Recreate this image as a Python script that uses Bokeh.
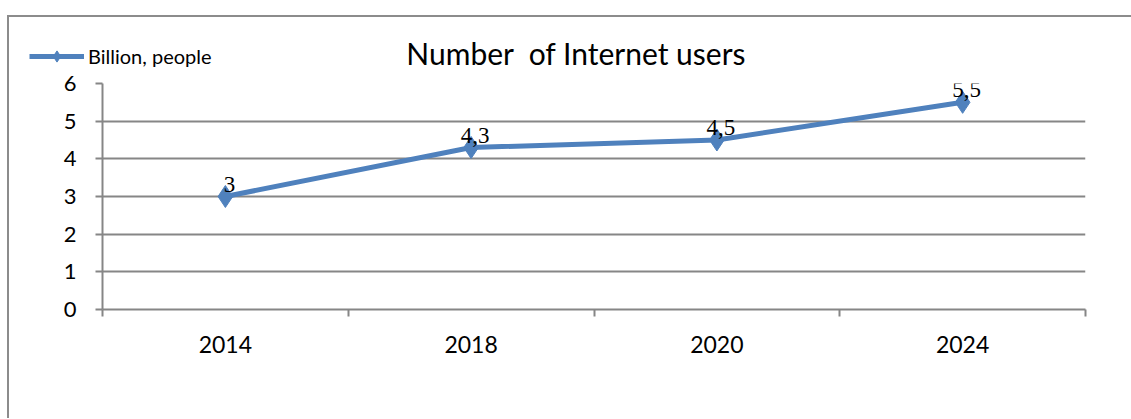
from bokeh.plotting import figure
from bokeh.layouts import column
from bokeh.models import (ColumnDataSource, Range1d, FixedTicker, Legend, LegendItem,
                          LabelSet, Label)
from bokeh.embed import file_html
from bokeh.resources import INLINE

# ---- data ----
years = ["2014", "2018", "2020", "2024"]
users = [3.0, 4.3, 4.5, 5.5]
series_name = "Billion, people"
title_text = "Number \u00a0of Internet users"
y_ticks = [0, 1, 2, 3, 4, 5, 6]

FONT = "Lato"
GRAY = "#868686"
BLUE = "#4f81bd"

xs = [i + 0.5 for i in range(len(years))]
labels = [(("%g" % v).replace(".", ",")) for v in users]
src = ColumnDataSource(dict(x=xs, y=users, lab=labels))

W = 1122
TOP_H = 53
MAIN_H = 348

# ---- header strip: legend + title ----
top = figure(width=W, height=TOP_H, output_backend="svg", toolbar_location=None,
             x_range=Range1d(0, W), y_range=Range1d(0, TOP_H),
             x_axis_type=None, y_axis_type=None,
             min_border_left=0, min_border_right=0, min_border_top=0, min_border_bottom=0)
top.frame_align = False
top.outline_line_color = None
top.xgrid.grid_line_color = None
top.ygrid.grid_line_color = None
top.border_fill_color = "white"
# legend renderers live on a range far outside the strip, so only their legend swatch shows
top.extra_y_ranges = {"off": Range1d(1000, 2000)}
l_line = top.line("x", "y", source=src, y_range_name="off", line_color=BLUE, line_width=5)
l_pts = top.scatter("x", "y", source=src, y_range_name="off", marker="diamond", size=14,
                    fill_color=BLUE, line_color=BLUE)
legend = Legend(items=[LegendItem(label=series_name, renderers=[l_line, l_pts])],
                location=(20, 0), padding=0, margin=0, border_line_color=None,
                background_fill_alpha=0, glyph_width=55, glyph_height=28,
                label_height=28, label_standoff=4, label_text_font=FONT,
                label_text_font_size="20px", label_text_color="black", spacing=0)
top.add_layout(legend, "center")
top.add_layout(Label(x=567, y=18, x_units="screen", y_units="screen", text=title_text,
                     text_align="center", text_baseline="middle", text_font=FONT,
                     text_font_size="30px", text_color="black"))

# ---- main chart ----
p = figure(width=W, height=MAIN_H, output_backend="svg", toolbar_location=None,
           x_range=Range1d(0, len(years)), y_range=Range1d(0, 6),
           min_border_left=93, min_border_right=46, min_border_top=13,
           min_border_bottom=109)
p.frame_align = False
p.outline_line_color = None
p.background_fill_color = "white"
p.border_fill_color = "white"

xa = p.xaxis[0]
xa.ticker = FixedTicker(ticks=xs, minor_ticks=list(range(len(years) + 1)))
xa.major_label_overrides = {x: y for x, y in zip(xs, years)}
xa.major_tick_out = 0
xa.major_tick_in = 0
xa.minor_tick_out = 7
xa.minor_tick_in = 0
xa.minor_tick_line_color = GRAY
xa.minor_tick_line_width = 2
xa.axis_line_color = GRAY
xa.axis_line_width = 2
xa.major_label_standoff = 19
xa.major_label_text_font = FONT
xa.major_label_text_font_size = "23px"
xa.major_label_text_color = "black"

ya = p.yaxis[0]
ya.ticker = FixedTicker(ticks=y_ticks)
ya.minor_tick_line_color = None
ya.major_tick_out = 7
ya.major_tick_in = 0
ya.major_tick_line_color = GRAY
ya.major_tick_line_width = 2
ya.axis_line_color = GRAY
ya.axis_line_width = 2
ya.major_label_standoff = 19
ya.major_label_text_font = FONT
ya.major_label_text_font_size = "22px"
ya.major_label_text_color = "black"

p.xgrid.grid_line_color = None
p.ygrid.ticker = FixedTicker(ticks=y_ticks)
p.ygrid.grid_line_color = GRAY
p.ygrid.grid_line_width = 2

p.line("x", "y", source=src, line_color=BLUE, line_width=5)
p.scatter("x", "y", source=src, marker="diamond", size=22,
          fill_color=BLUE, line_color=BLUE)
p.add_layout(LabelSet(x="x", y="y", text="lab", source=src, text_align="center",
                      text_baseline="alphabetic", x_offset=4, y_offset=5,
                      text_font=FONT, text_font_size="23px", text_color="black"))

layout = column(top, p, spacing=0)
layout.margin = (15, 0, 0, 7)
layout.styles = {"border-top": "2px solid #8c8c8c", "border-left": "2px solid #8c8c8c"}

open("out.html", "w").write(file_html(layout, INLINE))
